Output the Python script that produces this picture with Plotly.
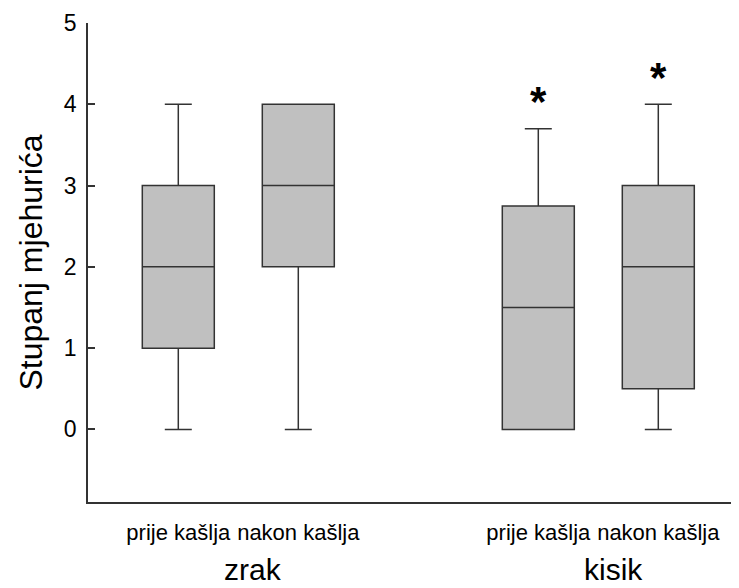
import plotly.graph_objects as go

groups = ["zrak", "kisik"]
conditions = ["prije kašlja", "nakon kašlja"]

# per box: (group, condition) in order
lower = [0, 0, 0, 0]
q1 = [1, 2, 0, 0.5]
median = [2, 3, 1.5, 2]
q3 = [3, 4, 2.75, 3]
upper = [4, 4, 3.7, 4]
significant = [False, False, True, True]

y_ticks = [0, 1, 2, 3, 4, 5]

FONT = "Liberation Sans, Arial, sans-serif"
LINE = "#333333"
FILL = "#c0c0c0"

fig = go.Figure()

positions = []
labels = []
k = 0
for gi, g in enumerate(groups):
    for ci, c in enumerate(conditions):
        pos = gi * 3 + ci + 1
        positions.append(pos)
        labels.append(c)
        fig.add_trace(go.Box(
            x=[pos], q1=[q1[k]], median=[median[k]], q3=[q3[k]],
            lowerfence=[lower[k]], upperfence=[upper[k]],
            width=0.6, whiskerwidth=0.375,
            fillcolor=FILL, line=dict(color=LINE, width=1.5),
            boxpoints=False, showlegend=False, hoverinfo="skip",
        ))
        if significant[k]:
            fig.add_annotation(x=pos, y=upper[k], xref="x", yref="y",
                               text="<b>*</b>", showarrow=False,
                               font=dict(family=FONT, size=42, color="black"),
                               yanchor="middle", yshift=27)
        k += 1

for gi, g in enumerate(groups):
    center = (positions[gi * 2] + positions[gi * 2 + 1]) / 2
    fig.add_annotation(x=center, y=0, xref="x", yref="paper",
                       text=g, showarrow=False, xshift=15, yshift=-67,
                       yanchor="middle",
                       font=dict(family=FONT, size=30, color="black"))

# the page body has an 8px margin, so the figure is 8px smaller than the window
fig.update_layout(
    width=731, height=580,
    margin=dict(l=80, r=0, t=15, b=86),
    plot_bgcolor="white", paper_bgcolor="white",
    font=dict(family=FONT, color="black"),
    xaxis=dict(range=[0.2475, 5.6725], tickvals=positions, ticktext=labels,
               showline=True, linecolor=LINE, linewidth=1.5, ticks="",
               showgrid=False, zeroline=False, automargin=False,
               tickfont=dict(size=22, family=FONT, color="black"),
               ticklabelstandoff=10),
    yaxis=dict(range=[-0.893, 5], tickvals=y_ticks, showline=True,
               linecolor=LINE, linewidth=1.5, ticks="inside", ticklen=7,
               tickcolor=LINE, tickwidth=1.5, automargin=False,
               showgrid=False, zeroline=False,
               tickfont=dict(size=23, family=FONT, color="black"),
               ticklabelstandoff=5,
               title=dict(text="Stupanj mjehurića", standoff=12,
                          font=dict(size=32, family=FONT, color="black"))),
)

fig.write_html("out.html")
